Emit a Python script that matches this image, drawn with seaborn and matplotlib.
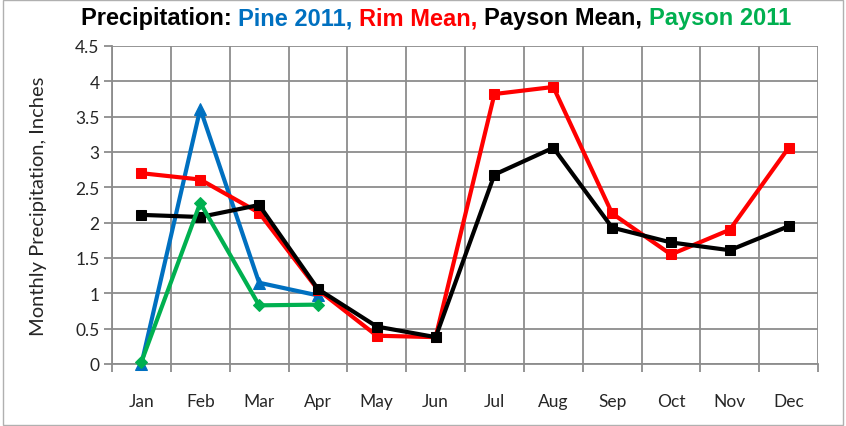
import numpy as np
import pandas as pd
import matplotlib.pyplot as plt
import seaborn as sns
from matplotlib.offsetbox import TextArea, HPacker, AnchoredOffsetbox
from matplotlib.ticker import FixedLocator

# values
months = ["Jan", "Feb", "Mar", "Apr", "May", "Jun",
          "Jul", "Aug", "Sep", "Oct", "Nov", "Dec"]
pine_2011 = [0.0, 3.61, 1.15, 0.97]
rim_mean = [2.70, 2.61, 2.14, 1.05, 0.40, 0.38, 3.82, 3.92, 2.13, 1.55, 1.90, 3.06]
payson_mean = [2.11, 2.08, 2.25, 1.06, 0.53, 0.38, 2.68, 3.06, 1.93, 1.72, 1.61, 1.95]
payson_2011 = [0.03, 2.28, 0.83, 0.84]
yticks = [0, 0.5, 1, 1.5, 2, 2.5, 3, 3.5, 4, 4.5]
ytick_labels = ["0", "0.5", "1", "1.5", "2", "2.5", "3", "3.5", "4", "4.5"]

series = [
    ("Pine 2011", pine_2011, "#0070C0", "^", 8),
    ("Rim Mean", rim_mean, "#FF0000", "s", 7),
    ("Payson Mean", payson_mean, "#000000", "s", 7),
    ("Payson 2011", payson_2011, "#00B050", "D", 6),
]

sns.set_theme(style="white")
plt.rcParams["font.family"] = ["Lato", "DejaVu Sans"]

fig = plt.figure(figsize=(8.46, 4.27), dpi=100)
ax = fig.add_axes([0.1324, 0.1452, 0.967 - 0.1324, 0.89 - 0.1452])

for name, vals, color, marker, ms in series:
    df = pd.DataFrame({"x": np.arange(len(vals)), "y": vals})
    sns.lineplot(data=df, x="x", y="y", ax=ax, color=color, marker=marker,
                 markersize=ms, markeredgecolor=color, linewidth=3,
                 clip_on=False, zorder=3)

ax.set_xlim(-0.5, 11.5)
ax.set_ylim(0, 4.5)
ax.set_xticks(np.arange(12))
ax.set_xticklabels(months)
ax.xaxis.set_minor_locator(FixedLocator(np.arange(-0.5, 12, 1)))
ax.set_yticks(yticks)
ax.set_yticklabels(ytick_labels)

ax.grid(which="minor", axis="x", color="#8c8c8c", linewidth=1.3)
ax.grid(which="major", axis="y", color="#8c8c8c", linewidth=1.3)
ax.tick_params(axis="x", which="major", length=0, pad=21, labelsize=12.5)
ax.tick_params(axis="x", which="minor", length=6, width=1.3, color="#8c8c8c",
               direction="out", bottom=True)
ax.tick_params(axis="y", which="major", length=6, width=1.3, color="#8c8c8c",
               direction="out", left=True, pad=3, labelsize=12.5)
for side in ["top", "right"]:
    ax.spines[side].set_visible(False)
ax.spines["left"].set_color("#8c8c8c")
ax.spines["left"].set_linewidth(1.3)
ax.spines["bottom"].set_color("#8c8c8c")
ax.spines["bottom"].set_linewidth(1.3)
ax.set_xlabel("")
ax.set_ylabel("Monthly Precipitation, Inches", fontsize=14.5, labelpad=20)

# multi-coloured title
title_font = dict(family=["Liberation Sans", "DejaVu Sans"], size=17, weight="bold")
parts = [("Precipitation: ", "#000000"), ("Pine 2011, ", "#0070C0"),
         ("Rim Mean, ", "#FF0000"), ("Payson Mean, ", "#000000"),
         ("Payson 2011", "#00B050")]
boxes = [TextArea(t, textprops=dict(color=c, **title_font)) for t, c in parts]
packer = HPacker(children=boxes, align="baseline", pad=0, sep=0)
anchored = AnchoredOffsetbox(loc="upper center", child=packer, pad=0, frameon=False,
                             bbox_to_anchor=(0.515, 0.99), bbox_transform=fig.transFigure,
                             borderpad=0.2)
fig.add_artist(anchored)

# thin chart-area border
fig.patches.append(plt.Rectangle((0.003, 0.003), 0.994, 0.994, transform=fig.transFigure,
                                 fill=False, edgecolor="#b0b0b0", linewidth=1))

fig.savefig("out.png", dpi=100)
